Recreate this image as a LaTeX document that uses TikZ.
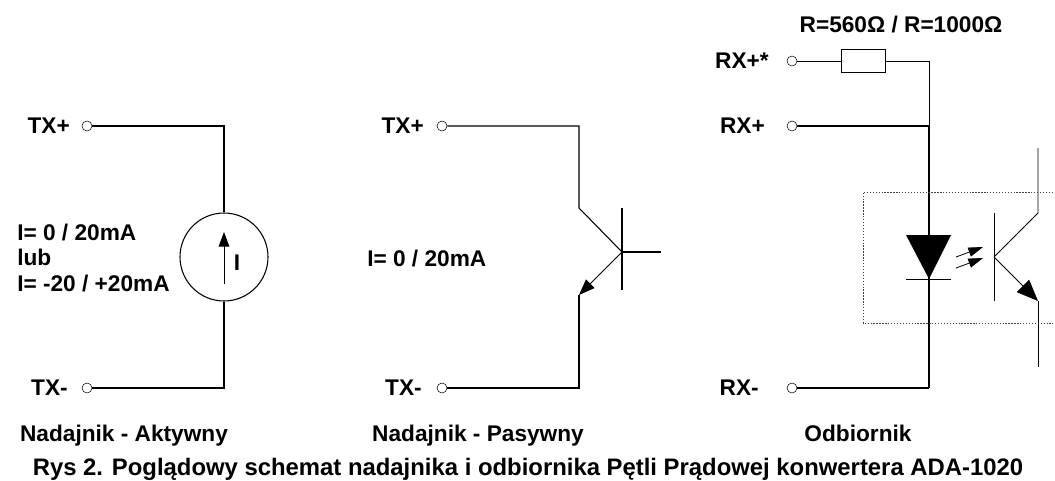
\documentclass[tikz,border=0pt]{standalone}
\usepackage{fontspec}
\setmainfont{Liberation Sans}
\usetikzlibrary{arrows.meta}
\tikzset{
  lbl/.style={font=\fontsize{17pt}{19pt}\bfseries\selectfont, inner sep=0pt},
  caption/.style={font=\fontsize{17.9pt}{20pt}\bfseries\selectfont, inner sep=0pt},
  pin/.style={circle, draw, fill=white, inner sep=0pt, minimum size=7.5pt},
  wire/.style={draw, line width=0.8pt},
  thin wire/.style={draw, line width=0.65pt},
  arr/.style={-{Triangle[length=12pt,width=9pt]}, line width=0.75pt},
  bigarr/.style={-{Triangle[length=16pt,width=13pt]}, line width=0.65pt},
  srcarr/.style={-{Triangle[length=11pt,width=8pt]}, line width=0.65pt},
  led/.style={-{Triangle[length=11pt,width=7pt]}, line width=0.6pt}
}
\begin{document}
\begin{tikzpicture}[x=0.75pt, y=0.75pt]
    \useasboundingbox (0,0) rectangle (1055,480);

    % Nadajnik - Aktywny
    \node[pin] (a1) at (87,354) {};
    \node[pin] (a2) at (87,92) {};
    \node[circle, draw, line width=0.8pt, minimum size=66pt, inner sep=0pt] (src) at (224,223) {};
    \coordinate (a3) at (224,354);
    \coordinate (a4) at (224,92);
    \coordinate (s1) at (224,196);
    \coordinate (s2) at (224,248);
    \node[lbl, anchor=east] (tx1) at (70,354) {TX+};
    \node[lbl, anchor=east] (tx2) at (68,92) {TX-};
    \node[lbl] (i1) at (237,217) {I};
    \node[lbl, anchor=west, align=left] (i2) at (17,222) {I= 0 / 20mA\\lub\\I= -20 / +20mA};
    \path[wire] (a1) -- (a3) -- (src);
    \path[wire] (a2) -- (a4) -- (src);
    \draw[srcarr] (s1) -- (s2);

    % Nadajnik - Pasywny
    \node[pin] (b1) at (442,354) {};
    \node[pin] (b2) at (442,92) {};
    \coordinate (b3) at (579,354);
    \coordinate (b4) at (579,272);
    \coordinate (b5) at (622,228);
    \coordinate (b6) at (579,185);
    \coordinate (b7) at (579,92);
    \coordinate (b8) at (622,272);
    \coordinate (b9) at (622,190);
    \coordinate (b10) at (661,228);
    \node[lbl, anchor=east] (tx3) at (424,354) {TX+};
    \node[lbl, anchor=east] (tx4) at (422,92) {TX-};
    \node[lbl, anchor=west] (i3) at (367,221) {I= 0 / 20mA};
    \path[wire] (b1) -- (b3) -- (b4) -- (b5);
    \draw[arr] (b5) -- (b6);
    \path[wire] (b6) -- (b7) -- (b2);
    \draw[line width=1.5pt] (b8) -- (b9);
    \path[wire] (b5) -- (b10);

    % Odbiornik
    \node[pin] (c1) at (792,419) {};
    \node[pin] (c2) at (792,354) {};
    \node[pin] (c3) at (792,92) {};
    \node[draw, line width=0.65pt, minimum width=33pt, minimum height=17pt, inner sep=0pt] (res) at (863,419) {};
    \coordinate (c4) at (929,419);
    \coordinate (c5) at (929,354);
    \coordinate (c6) at (929,92);
    \coordinate (c8) at (929,201);
    \coordinate (c9) at (906,245);
    \coordinate (c10) at (951,245);
    \coordinate (c11) at (906,201);
    \coordinate (c12) at (951,201);
    \node[lbl, anchor=base] (r1) at (901,448) {R=560Ω / R=1000Ω};
    \node[lbl, anchor=east] (rx1) at (769,419) {RX+*};
    \node[lbl, anchor=east] (rx2) at (765,354) {RX+};
    \node[lbl, anchor=east] (rx3) at (759,92) {RX-};
    \path[thin wire] (c1) -- (res) -- (c4) -- (c5);
    \path[wire] (c2) -- (c5) -- (c6);
    \path[wire] (c3) -- (c6);
    \fill (c9) -- (c10) -- (c8) -- cycle;
    \path[thin wire] (c11) -- (c12);
    % optotranzystor
    \coordinate (d1) at (994,267);
    \coordinate (d2) at (994,179);
    \coordinate (d3) at (994,223);
    \coordinate (d4) at (1038,267);
    \coordinate (d5) at (1038,179);
    \coordinate (d6) at (1038,332);
    \coordinate (d7) at (1038,113);
    \coordinate (e1) at (956,223);
    \coordinate (e2) at (983,233);
    \coordinate (e3) at (956,212);
    \coordinate (e4) at (983,222);
    \path[thin wire] (d1) -- (d2);
    \path[thin wire] (d3) -- (d4) -- (d6);
    \draw[bigarr] (d3) -- (d5);
    \path[thin wire] (d5) -- (d7);
    \draw[led] (e1) -- (e2);
    \draw[led] (e3) -- (e4);
    \draw[dash pattern=on 1pt off 1.2pt, line width=0.75pt, black!75] (1053,288) -- (863,288) -- (863,157) -- (1053,157);

    % Podpisy
    \node[lbl, anchor=base] (t1) at (124,39) {Nadajnik - Aktywny};
    \node[lbl, anchor=base] (t2) at (478,39) {Nadajnik - Pasywny};
    \node[lbl, anchor=base] (t3) at (858,39) {Odbiornik};
    \node[caption, anchor=base] (t4) at (528,5) {Rys 2. Poglądowy schemat nadajnika i odbiornika Pętli Prądowej konwertera ADA-1020};
\end{tikzpicture}
\end{document}
